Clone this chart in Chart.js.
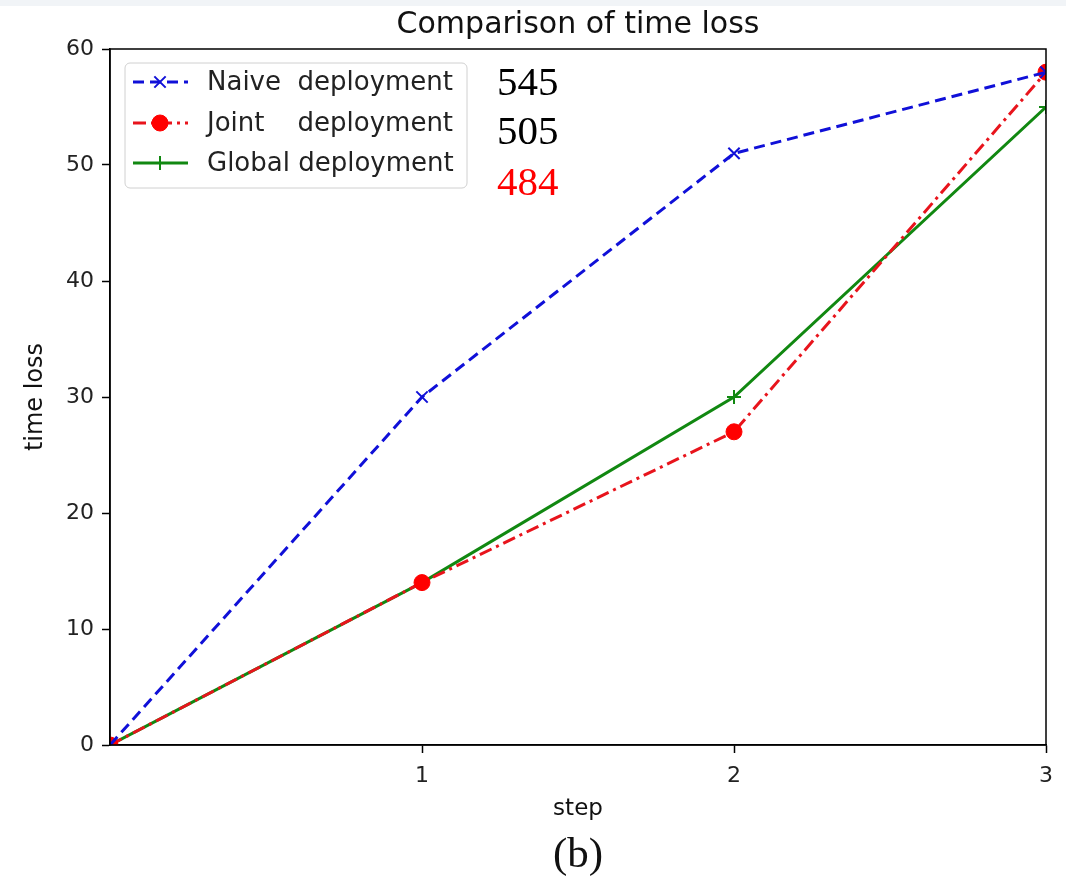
<!DOCTYPE html>
<html><head><meta charset="utf-8">
<script src="https://cdn.jsdelivr.net/npm/chart.js@4.4.1/dist/chart.umd.min.js"></script>
<style>html,body{margin:0;padding:0;background:#fff;}canvas{display:block;}</style>
</head><body>
<canvas id="c" width="1066" height="879"></canvas>
<script>
const steps = [0, 1, 2, 3];
const naive = [0, 30, 51, 58];
const joint = [0, 14, 27, 58];
const globalDep = [0, 14, 30, 55];
const yTicks = [0, 10, 20, 30, 40, 50, 60];
const xTicks = [1, 2, 3];
const seriesNames = ['Naive  deployment', 'Joint    deployment', 'Global deployment'];
const totals = ['545', '505', '484'];
const totalColors = ['#000000', '#000000', '#ff0000'];

const SANS = '"DejaVu Sans", sans-serif';
const SERIF = '"Liberation Serif", "DejaVu Serif", serif';

function pts(arr) { return steps.map((s, i) => ({ x: s, y: arr[i] })); }

const datasets = [
  { label: seriesNames[0], data: pts(naive), borderColor: '#1010d8', backgroundColor: '#1010d8',
    borderWidth: 3, borderDash: [11, 6], pointStyle: 'crossRot', pointRadius: 8, pointBorderWidth: 2,
    pointBorderColor: '#1010d8', pointBackgroundColor: '#1010d8', fill: false, tension: 0, clip: 0 },
  { label: seriesNames[1], data: pts(joint), borderColor: '#e8141c', backgroundColor: '#ff0000',
    borderWidth: 3, borderDash: [13, 5, 3, 5], pointStyle: 'circle', pointRadius: 8, pointBorderWidth: 1,
    pointBorderColor: '#ff0000', pointBackgroundColor: '#ff0000', fill: false, tension: 0, clip: 0 },
  { label: seriesNames[2], data: pts(globalDep), borderColor: '#118811', backgroundColor: '#118811',
    borderWidth: 3, pointStyle: 'cross', pointRadius: 7, pointBorderWidth: 2,
    pointBorderColor: '#118811', pointBackgroundColor: '#118811', fill: false, tension: 0, clip: 0 }
];

const decor = {
  id: 'decor',
  beforeDraw(chart) {
    const ctx = chart.ctx;
    ctx.save();
    ctx.fillStyle = '#f1f4f7';
    ctx.fillRect(0, 0, chart.width, 6);
    ctx.restore();
  },
  afterDraw(chart) {
    const ctx = chart.ctx;
    const a = chart.chartArea;
    ctx.save();
    ctx.strokeStyle = '#000';
    ctx.lineWidth = 1.5;
    ctx.strokeRect(a.left, a.top, a.right - a.left, a.bottom - a.top);
    const cx = (a.left + a.right) / 2;
    ctx.fillStyle = '#111';
    ctx.font = '30px ' + SANS;
    ctx.textAlign = 'center';
    ctx.textBaseline = 'alphabetic';
    ctx.fillText('Comparison of time loss', cx, 33);
    ctx.font = '23px ' + SANS;
    ctx.fillText('step', cx, 815);
    ctx.font = '43px ' + SERIF;
    ctx.fillText('(b)', cx, 867);
    ctx.save();
    ctx.translate(42, (a.top + a.bottom) / 2);
    ctx.rotate(-Math.PI / 2);
    ctx.font = '24px ' + SANS;
    ctx.fillStyle = '#111';
    ctx.textAlign = 'center';
    ctx.fillText('time loss', 0, 0);
    ctx.restore();
    const lx = 125, ly = 63, lw = 342, lh = 125, r = 5;
    ctx.beginPath();
    ctx.moveTo(lx + r, ly);
    ctx.arcTo(lx + lw, ly, lx + lw, ly + lh, r);
    ctx.arcTo(lx + lw, ly + lh, lx, ly + lh, r);
    ctx.arcTo(lx, ly + lh, lx, ly, r);
    ctx.arcTo(lx, ly, lx + lw, ly, r);
    ctx.closePath();
    ctx.fillStyle = 'rgba(255,255,255,0.85)';
    ctx.fill();
    ctx.strokeStyle = '#d0d0d0';
    ctx.lineWidth = 1;
    ctx.stroke();
    const rows = [82, 123, 163];
    chart.data.datasets.forEach((ds, i) => {
      const y = rows[i];
      ctx.save();
      ctx.strokeStyle = ds.borderColor;
      ctx.lineWidth = ds.borderWidth;
      ctx.setLineDash(ds.borderDash || []);
      ctx.beginPath();
      ctx.moveTo(133, y);
      ctx.lineTo(188, y);
      ctx.stroke();
      ctx.setLineDash([]);
      ctx.fillStyle = ds.pointBackgroundColor;
      ctx.strokeStyle = ds.pointBorderColor;
      ctx.lineWidth = ds.pointBorderWidth;
      Chart.helpers.drawPoint(ctx, {
        pointStyle: ds.pointStyle, radius: ds.pointRadius, borderWidth: ds.pointBorderWidth, rotation: 0
      }, 160, y);
      ctx.restore();
      ctx.fillStyle = '#222';
      ctx.font = '26px ' + SANS;
      ctx.textAlign = 'left';
      ctx.textBaseline = 'middle';
      ctx.fillText(ds.label, 207, y + 1);
    });
    ctx.font = '41px ' + SERIF;
    ctx.textAlign = 'left';
    ctx.textBaseline = 'alphabetic';
    const ty = [95, 144, 195];
    totals.forEach((t, i) => {
      ctx.fillStyle = totalColors[i];
      ctx.fillText(t, 497, ty[i]);
    });
    ctx.restore();
  }
};

new Chart(document.getElementById('c'), {
  type: 'line',
  data: { datasets },
  options: {
    responsive: false,
    animation: false,
    devicePixelRatio: 1,
    layout: { padding: { top: 49, right: 20, left: 0, bottom: 0 } },
    plugins: { legend: { display: false }, title: { display: false }, tooltip: { enabled: false } },
    scales: {
      x: {
        type: 'linear', min: 0, max: 3,
        afterBuildTicks: s => { s.ticks = xTicks.map(v => ({ value: v })); },
        afterFit: s => { s.height = 134; },
        grid: { display: true, drawOnChartArea: false, drawTicks: true, tickLength: 8, color: '#000', tickWidth: 1.5 },
        border: { display: true, color: '#000', width: 1.5 },
        ticks: { color: '#222', font: { family: SANS, size: 22 }, padding: 10, maxRotation: 0 }
      },
      y: {
        min: 0, max: 60,
        afterBuildTicks: s => { s.ticks = yTicks.map(v => ({ value: v })); },
        afterFit: s => { s.width = 110; },
        grid: { display: true, drawOnChartArea: false, drawTicks: true, tickLength: 8, color: '#000', tickWidth: 1.5 },
        border: { display: true, color: '#000', width: 1.5 },
        ticks: { color: '#222', font: { family: SANS, size: 22 }, padding: 8 }
      }
    }
  },
  plugins: [decor]
});
</script>
</body></html>
